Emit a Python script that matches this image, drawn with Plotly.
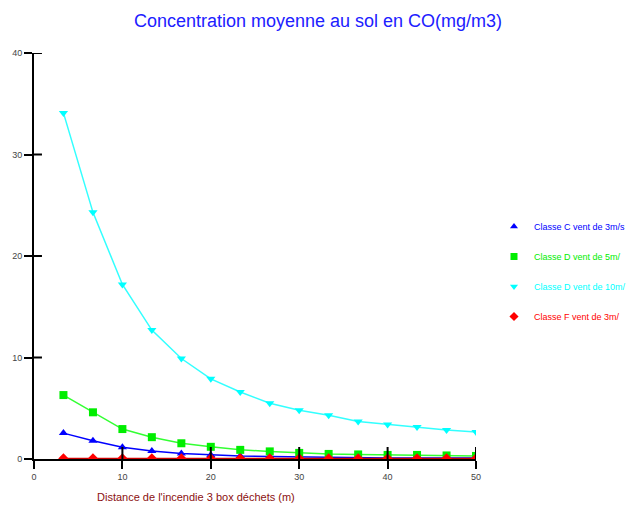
import plotly.graph_objects as go

# Distance from the fire (m)
distance = [3.33, 6.67, 10.0, 13.33, 16.67, 20.0, 23.33, 26.67, 30.0, 33.33,
            36.67, 40.0, 43.33, 46.67, 50.0]

# Mean ground-level CO concentration (mg/m3) per stability class / wind speed
classe_c_3 = [2.55, 1.8, 1.15, 0.8, 0.55, 0.4, 0.3, 0.25, 0.2, 0.15, 0.12, 0.1, 0.1, 0.1, 0.1]
classe_d_5 = [6.3, 4.6, 2.95, 2.15, 1.55, 1.2, 0.9, 0.75, 0.6, 0.5, 0.45, 0.4, 0.4, 0.35, 0.3]
classe_d_10 = [34.1, 24.3, 17.2, 12.7, 9.9, 7.9, 6.6, 5.5, 4.8, 4.3, 3.7, 3.4, 3.15, 2.85, 2.65]
classe_f_3 = [0.05, 0.05, 0.05, 0.05, 0.05, 0.05, 0.05, 0.05, 0.05, 0.05, 0.05, 0.05, 0.05, 0.05, 0.05]

series_names = ["Classe C vent de 3m/s", "Classe D vent de 5m/",
                "Classe D vent de 10m/", "Classe F vent de 3m/"]
series_values = [classe_c_3, classe_d_5, classe_d_10, classe_f_3]
marker_colors = ["#0000FF", "#00EE00", "#00FFFF", "#FF0000"]
line_colors = ["#0000FF", "#33FF33", "#33FFFF", "#CC0000"]
symbols = ["triangle-up", "square", "triangle-down", "diamond"]

x_ticks = [0, 10, 20, 30, 40, 50]
y_ticks = [0, 10, 20, 30, 40]

PLOT_W, PLOT_H = 444, 406  # plotting area in pixels

fig = go.Figure()
for name, vals, mcol, lcol, sym in zip(series_names, series_values,
                                       marker_colors, line_colors, symbols):
    fig.add_trace(go.Scatter(
        x=distance, y=vals, name=name, mode="lines+markers",
        line=dict(color=lcol, width=1.5),
        marker=dict(color=mcol, symbol=sym, size=8),
        showlegend=False,
    ))

# legend entries: marker only, label in the series colour
for i, (name, mcol, sym) in enumerate(zip(series_names, marker_colors, symbols)):
    fig.add_trace(go.Scatter(
        x=[None], y=[None], mode="markers",
        name=f"<span style='color:{mcol}'>{name}</span>",
        marker=dict(color=mcol, symbol=sym, size=7),
        legendgroup=f"g{i}", hoverinfo="skip",
    ))

# inner half of the tick marks, drawn over the curves
for t in x_ticks[1:]:
    fig.add_shape(type="line", xref="x", yref="paper", x0=t, x1=t,
                  y0=0, y1=12 / PLOT_H,
                  line=dict(color="black", width=2), layer="above")
for t in y_ticks[1:]:
    fig.add_shape(type="line", xref="paper", yref="y", y0=t, y1=t,
                  x0=0, x1=8 / PLOT_W,
                  line=dict(color="black", width=2), layer="above")

tick_font = dict(family="Liberation Sans, Arial", size=9, color="#444444")

fig.update_layout(
    width=636, height=507,
    margin=dict(l=32, r=160, t=53, b=48),
    paper_bgcolor="white", plot_bgcolor="white",
    title=dict(text="Concentration moyenne au sol en CO(mg/m3)",
               x=0.5, xanchor="center", y=0.96, yanchor="middle",
               font=dict(family="Liberation Sans, Arial", size=18, color="#2020FF")),
    xaxis=dict(range=[0, 50], tickvals=x_ticks, ticks="outside", ticklen=8,
               tickwidth=2, tickcolor="black", showline=True, linecolor="black",
               linewidth=2, showgrid=False, zeroline=False, tickfont=tick_font),
    yaxis=dict(range=[0, 40], tickvals=y_ticks, ticks="outside", ticklen=8,
               tickwidth=2, tickcolor="black", showline=True, linecolor="black",
               linewidth=2, showgrid=False, zeroline=False, tickfont=tick_font),
    legend=dict(xref="container", yref="container",
                x=494 / 636, xanchor="left", y=1 - 212 / 507, yanchor="top",
                font=dict(family="Liberation Sans, Arial", size=9),
                tracegroupgap=11, itemwidth=30, bgcolor="rgba(0,0,0,0)"),
    annotations=[dict(text="Distance de l'incendie 3 box déchets (m)",
                      xref="paper", yref="paper", x=(195 - 32) / PLOT_W, y=-0.093,
                      xanchor="center", yanchor="middle", showarrow=False,
                      font=dict(family="Liberation Sans, Arial", size=11, color="#8B1010"))],
)

fig.write_html("out.html")
